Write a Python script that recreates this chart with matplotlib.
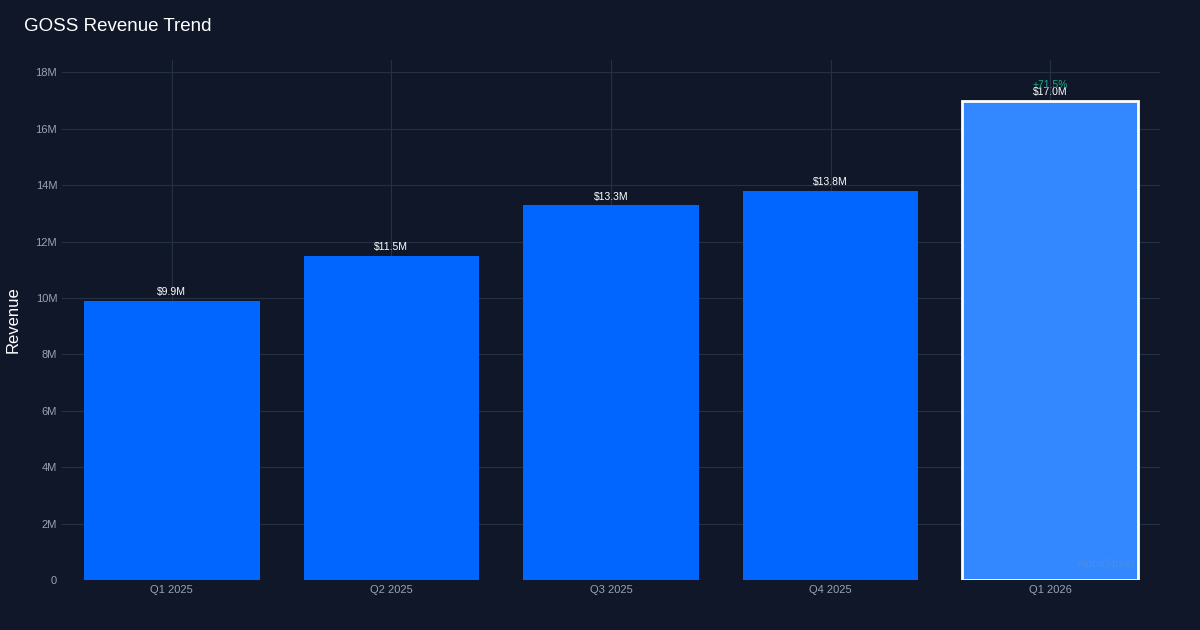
import matplotlib
matplotlib.use("Agg")
import matplotlib.pyplot as plt

plt.rcParams["font.family"] = ["Liberation Sans", "DejaVu Sans"]

quarters = ["Q1 2025", "Q2 2025", "Q3 2025", "Q4 2025", "Q1 2026"]
revenue_m = [9.9, 11.5, 13.3, 13.8, 17.0]
labels = ["$9.9M", "$11.5M", "$13.3M", "$13.8M", "$17.0M"]
yoy_label = "+71.5%"

bg = "#0f1729"
fig = plt.figure(figsize=(12, 6.3), dpi=100, facecolor=bg)
ax = fig.add_axes([0.0517, 0.0794, 0.915, 0.825], facecolor=bg)

x = range(len(quarters))
colors = ["#0066ff"] * 4 + ["#3388ff"]
bars = ax.bar(x, revenue_m, width=0.8, color=colors, zorder=2)
bars[-1].set_edgecolor("white")
bars[-1].set_linewidth(2)

for i, (v, l) in enumerate(zip(revenue_m, labels)):
    ax.text(i, v + 0.12, l, ha="center", va="bottom", color="white", fontsize=7.5, zorder=3)
ax.text(4, revenue_m[-1] + 0.38, yoy_label, ha="center", va="bottom", color="#22aa88", fontsize=7.5, zorder=3)
ax.text(4.39, 0.4, "AlphaStreet", ha="right", va="bottom", color="#5a8fd8", alpha=0.6, fontsize=8, zorder=3)

ax.set_xlim(-0.5, 4.5)
ax.set_ylim(0, 18.43)
ax.set_yticks([0, 2, 4, 6, 8, 10, 12, 14, 16, 18])
ax.set_yticklabels(["0"] + [f"{t}M" for t in range(2, 20, 2)])
ax.set_xticks(list(x))
ax.set_xticklabels(quarters)
ax.tick_params(colors="#9aa3b5", labelsize=8, length=0)
ax.grid(True, color="#243044", linewidth=0.8, zorder=0)
for s in ax.spines.values():
    s.set_visible(False)
fig.text(0.011, 0.492, "Revenue", color="white", fontsize=12, rotation=90, va="center", ha="center")
fig.text(0.02, 0.958, "GOSS Revenue Trend", color="white", fontsize=13.5, va="center")

fig.savefig("out.png", facecolor=bg)
